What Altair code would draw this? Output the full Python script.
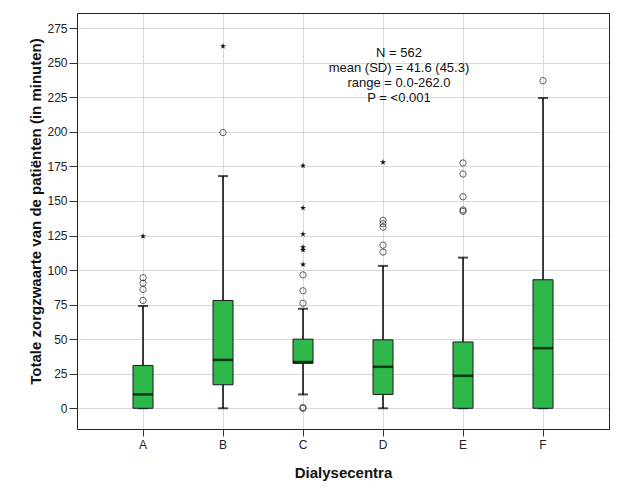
import altair as alt
import pandas as pd

categories = ["A", "B", "C", "D", "E", "F"]
q1 = [0, 17, 32.5, 10, 0, 0]
median = [10, 35, 33.5, 30, 23.5, 43.5]
q3 = [31, 78, 50, 49.5, 48, 93]
whisker_low = [0, 0, 10, 0, 0, 0]
whisker_high = [74, 168, 72, 103, 109, 224.5]
circle_outliers = {
    "A": [78, 86, 90.5, 94.5],
    "B": [199.5],
    "C": [0, 0.5, 76, 85, 96.5],
    "D": [113, 118, 131, 133.5, 136],
    "E": [142.5, 143.5, 153, 169.5, 177.5],
    "F": [237],
}
star_outliers = {
    "A": [124.5],
    "B": [262],
    "C": [104, 114.5, 116.5, 126, 145, 175.5],
    "D": [178],
    "E": [],
    "F": [],
}
y_ticks = [0, 25, 50, 75, 100, 125, 150, 175, 200, 225, 250, 275]
annotation = ["N = 562", "mean (SD) = 41.6 (45.3)", "range = 0.0-262.0", "P = <0.001"]

GREEN = "#2eb84b"
FONT = "Liberation Sans"

boxes = pd.DataFrame({
    "centre": categories, "q1": q1, "median": median, "q3": q3,
    "lo": whisker_low, "hi": whisker_high,
})
circles = pd.DataFrame([(c, v) for c in categories for v in circle_outliers[c]],
                       columns=["centre", "value"])
stars = pd.DataFrame([(c, v) for c in categories for v in star_outliers[c]],
                     columns=["centre", "value"])
caps = pd.concat([
    boxes[["centre", "lo"]].rename(columns={"lo": "value"}),
    boxes[["centre", "hi"]].rename(columns={"hi": "value"}),
])

xscale = alt.Scale(domain=categories, paddingInner=0, paddingOuter=0.325)
yscale = alt.Scale(domain=[-15, 286], nice=False, zero=False)

xaxis = alt.Axis(title="Dialysecentra", labelAngle=0, labelFontSize=12, labelColor="#222",
                 titleFontSize=15, titleFontWeight="bold", titleColor="#111",
                 tickSize=7, tickColor="#333", domain=True, domainColor="#222",
                 grid=True, gridColor="#d9d9d9",
                 bandPosition=0.5, labelPadding=3, titleY=43, titleBaseline="middle")
yaxis = alt.Axis(title="Totale zorgzwaarte van de patiënten  (in minuten)", values=y_ticks,
                 labelFontSize=12, labelColor="#222", titleFontSize=15, titleFontWeight="bold",
                 titleColor="#111", tickSize=8, tickColor="#333", domain=True,
                 domainColor="#222", grid=True,
                 gridColor="#d9d9d9", labelPadding=2, titleX=-42, titleY=198,
                 titleAngle=-90, titleAlign="center", titleBaseline="middle")
top_axis = alt.Axis(orient="top", title=None, labels=False, ticks=False, grid=False,
                    domain=True, domainColor="#222")
right_axis = alt.Axis(orient="right", title=None, labels=False, ticks=False, grid=False,
                      domain=True, domainColor="#222")

X = alt.X("centre:N", scale=xscale, axis=None, sort=categories)
Y_AX = dict(scale=yscale, axis=None)

whiskers = alt.Chart(boxes).mark_rule(color="#000", strokeWidth=1.5).encode(
    x=alt.X("centre:N", scale=xscale, axis=xaxis, sort=categories),
    y=alt.Y("lo:Q", scale=yscale, axis=yaxis), y2="hi:Q")

frame = alt.Chart(boxes).mark_point(opacity=0).encode(
    x=alt.X("centre:N", scale=xscale, axis=top_axis, sort=categories),
    y=alt.Y("hi:Q", scale=yscale, axis=right_axis))

cap_marks = alt.Chart(caps).mark_tick(color="#000", size=10, thickness=2).encode(
    x=X, y=alt.Y("value:Q", **Y_AX))

box_marks = alt.Chart(boxes).mark_bar(size=20, color=GREEN, stroke="#1a1a1a", strokeWidth=1).encode(
    x=X, y=alt.Y("q1:Q", **Y_AX), y2="q3:Q")

median_marks = alt.Chart(boxes).mark_tick(color="#000", size=20, thickness=2.5).encode(
    x=X, y=alt.Y("median:Q", **Y_AX))

circle_marks = alt.Chart(circles).mark_point(shape="circle", filled=False, color="#222",
                                             size=40, strokeWidth=1).encode(
    x=X, y=alt.Y("value:Q", **Y_AX))

STAR = ("M0,-1L0.2245,-0.309L0.951,-0.309L0.363,0.118L0.588,0.809L0,0.382"
        "L-0.588,0.809L-0.363,0.118L-0.951,-0.309L-0.2245,-0.309Z")
star_marks = alt.Chart(stars).mark_point(shape=STAR, filled=True, color="#111", size=40,
                                         opacity=1).encode(
    x=X, y=alt.Y("value:Q", **Y_AX))

text_df = pd.DataFrame({"label": ["\n".join(annotation)]})
text_mark = alt.Chart(text_df).mark_text(font=FONT, fontSize=13, color="#111", align="center",
                                         baseline="middle", lineBreak="\n", lineHeight=15).encode(
    text="label:N", x=alt.value(322), y=alt.value(40))

chart = alt.layer(whiskers, frame, cap_marks, box_marks, median_marks, circle_marks, star_marks,
                  text_mark).resolve_axis(x="independent", y="independent").properties(
    width=532, height=416,
    padding={"left": 69, "top": 5, "right": 10, "bottom": 66},
    autosize=alt.AutoSizeParams(type="none"),
    background="white",
).configure_view(
    fill="#f0f0f0", stroke=None
).configure(font=FONT)

chart.save("out.html", embed_options={"renderer": "svg", "actions": False})
